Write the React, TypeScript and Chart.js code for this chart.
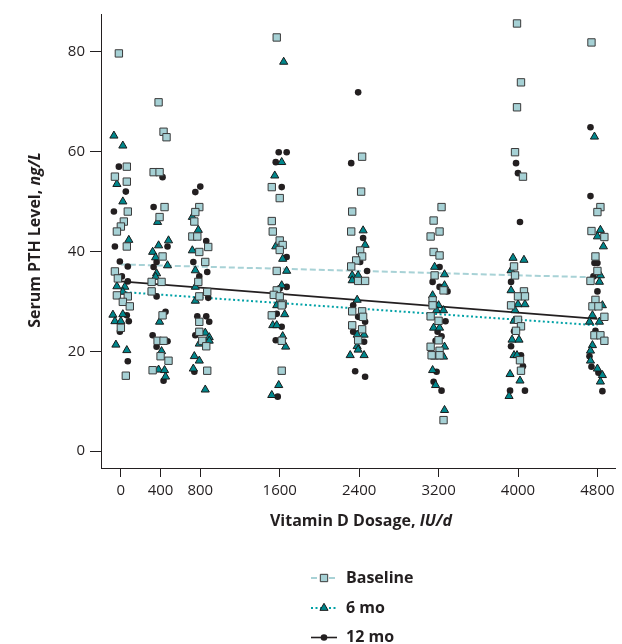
import React, { useEffect, useRef } from "react";
import { Chart, registerables } from "chart.js";

Chart.register(...registerables);

// ---- Data ----
const doses = [0, 400, 800, 1600, 2400, 3200, 4000, 4800];
const xTickValues = [0, 400, 800, 1600, 2400, 3200, 4000, 4800];
const yTickValues = [0, 20, 40, 60, 80];

// Baseline PTH values (ng/L) per dosage group, and horizontal jitter (IU/d units)
const baselineValues: number[][] = [
  [79.7, 57, 55, 54, 48, 46, 45, 44, 41, 36, 34.6, 31.2, 31, 29.9, 29, 24.7, 15.1],
  [69.9, 64, 62.9, 55.9, 55.9, 48.9, 46.9, 39, 33.9, 33.9, 32, 27.2, 22.1, 22.1, 19, 18.1, 16.2],
  [48.9, 47.9, 46, 43, 43, 40.9, 39.9, 37.9, 33.9, 31.9, 31, 25.9, 23.9, 22.1, 21, 16.1],
  [82.9, 52.9, 50.7, 46.1, 44, 42.2, 41.3, 40.3, 36.1, 32.2, 31.3, 31, 29.5, 29.2, 27.2, 22.1, 16.1],
  [59, 52, 48, 44, 40.2, 39, 38.2, 37, 34.1, 34.1, 28, 28, 26.9, 25.2, 24.4, 22.2],
  [48.9, 46.2, 44, 43, 39.9, 39.2, 35.2, 32.2, 30.2, 29.2, 27, 26.1, 22.2, 20.9, 20.1, 19.2, 19.2, 6.2],
  [85.7, 73.9, 68.9, 59.9, 55, 37, 35.2, 32, 31, 31, 29.2, 26.3, 25, 24.1, 18.2, 16.1],
  [81.9, 48.9, 47.9, 44.1, 42.9, 39, 36.1, 34.1, 30.3, 29, 29, 26.9, 23.2, 23.2, 22.1],
];
const baselineJitter: number[][] = [
  [-20, 60, -60, 60, 70, 30, 0, -40, 60, -60, -30, -40, 70, 20, 90, 0, 50],
  [-20, 30, 60, -70, -10, 40, -10, 20, -90, 10, -90, 20, -30, 30, 0, 80, -80],
  [-10, -50, -60, -80, -30, 80, -10, 50, -20, 70, -10, -10, -10, 20, 60, 70],
  [-30, -80, 0, -80, -70, 0, 30, 0, -30, -30, -60, 0, 30, 20, -80, 20, 20],
  [30, 20, -70, -80, 10, 30, -30, -80, -10, 60, -70, 30, 40, -70, 30, -10],
  [30, -50, 10, -80, -50, 10, -40, 50, -60, -60, -80, 0, 0, -80, 10, -70, 10, 50],
  [-10, 30, -10, -30, 50, -40, -30, 60, 0, 70, -70, 0, 30, -20, 20, 30],
  [-60, 30, 0, -60, 70, -20, 0, -70, -20, -50, 10, 70, -30, 30, 70],
];

const mo6Values: number[][] = [
  [63.2, 61.2, 53.5, 50, 42.3, 33, 32.9, 31.9, 27.3, 27.4, 26, 26, 21.3, 20.2],
  [45.9, 42.2, 41.2, 39.9, 38.8, 37.2, 35.6, 34.9, 25.9, 20, 16.3, 16.2, 14.9],
  [46.9, 44.3, 40.2, 36.2, 32.9, 30.1, 23.7, 22.8, 22.1, 21.5, 19, 18.1, 16.5, 12.3],
  [78, 57.9, 55.2, 41, 38.5, 36.1, 33.2, 29.2, 27.4, 25.2, 25.2, 23, 20.9, 13.2, 11.2],
  [44.2, 41.3, 35.2, 35.2, 34.2, 30.3, 23.3, 23.3, 21, 20.3, 19.2, 19.2],
  [36.9, 35.4, 33.2, 31.2, 29.2, 28.2, 28.2, 24.7, 24.7, 20.9, 18.9, 18.9, 16.2, 13.2, 8.2],
  [38.7, 38.3, 36.2, 32.2, 29.4, 29.4, 28.2, 26.1, 22.3, 22.3, 19.2, 19.2, 15.4, 14.1, 11],
  [63, 44.3, 43, 41, 35.2, 33.9, 29.2, 27.2, 25.9, 25.9, 21.2, 20.1, 18.1, 16.5, 15.2, 13.9],
];
const mo6Jitter: number[][] = [
  [-70, 20, -40, 20, 80, -40, 40, 20, -80, 20, -60, 0, -50, 60],
  [-30, 80, -20, -80, -50, 70, -40, -50, -10, 10, -20, 40, 50],
  [-80, -20, -80, -50, -50, -50, 50, 90, 90, -10, -60, -10, -70, 50],
  [40, 20, -50, -40, 30, 70, 20, -30, 50, -70, -30, 30, 60, -10, -80],
  [40, 60, -70, -10, -70, -20, -20, 50, -20, -10, -90, 50],
  [-40, 60, 60, -60, 0, -20, 50, -50, 10, 60, -40, 50, -60, -30, 60],
  [-50, 60, -70, -70, 0, 70, -30, -40, -60, 10, -40, -10, -80, 20, -90],
  [-30, 30, 0, 60, 30, 20, 50, -50, -80, 20, -50, -70, -70, 0, 50, 30],
];

const mo12Values: number[][] = [
  [57, 52, 48, 41, 38, 37, 35, 34, 27.2, 26, 23.9, 18],
  [54.9, 48.9, 41, 37.9, 36.9, 31, 27.9, 23.2, 22, 20.9, 14.1],
  [53, 51.9, 42.1, 37.9, 35.9, 35, 30.7, 27, 27, 25.9, 23.2, 15.9],
  [59.9, 59.9, 57.9, 52.9, 38.9, 32.9, 32.6, 27.5, 24.9, 22.2, 10.9],
  [71.9, 57.7, 42.7, 37.9, 36.1, 29.2, 26.9, 25.9, 23.9, 21.9, 16, 14.9],
  [36.9, 33.9, 32.9, 32, 26, 23.9, 23, 22.1, 15.9, 13.9, 12.1],
  [57.7, 55.7, 45.9, 33.9, 24, 21, 19.2, 17, 12.1, 12.1],
  [64.9, 51.1, 37.7, 37.7, 35, 32, 24.1, 19, 16.9, 15.7, 12],
];
const mo12Jitter: number[][] = [
  [-20, 50, -70, -60, -10, 70, 10, 70, 60, 80, -10, 70],
  [20, -70, 70, -40, -70, -40, 50, -80, 70, -40, 30],
  [0, -50, 60, -70, 70, -10, 80, -30, 60, 90, -50, -60],
  [-10, 70, -40, 20, 70, 70, 0, -30, 20, -40, -20],
  [-10, -80, 40, 10, 80, -60, -10, 60, -60, 50, -40, 60],
  [10, -60, 10, 90, 70, -10, 30, -30, -20, -50, 30],
  [-20, 0, 20, -70, -40, -70, 30, 50, -80, 70],
  [-70, -70, -30, 0, -40, 0, -20, -80, -60, 10, 50],
];

// Fitted trend lines: value at 0 IU/d and at 4800 IU/d
const trendDoses = [0, 4800];
const baselineTrend = [37.4, 34.8];
const mo6Trend = [31.9, 25.2];
const mo12Trend = [34.0, 26.5];

const seriesLabels = ["Baseline", "6 mo", "12 mo"];

// ---- Styles ----
const FONT = "'Open Sans', 'Noto Sans', sans-serif";
const INK = "#231F20";
const SQUARE_FILL = "#A6D1D5";
const SQUARE_EDGE = "#3a3a3a";
const TRI_FILL = "#00878C";
const TRI_EDGE = "#1a1a1a";
const BASE_LINE = "#A8D2D6";
const MO6_LINE = "#00A1A6";
const TITLE_SIZE = 16;
const TICK_SIZE = 15;

function toPoints(values: number[][], jitter: number[][]) {
  const pts: { x: number; y: number }[] = [];
  doses.forEach((d, gi) => {
    values[gi].forEach((v, i) => pts.push({ x: d + jitter[gi][i], y: v }));
  });
  return pts;
}

function toTrend(vals: number[]) {
  return trendDoses.map((d, i) => ({ x: d, y: vals[i] }));
}

function drawMarker(ctx: CanvasRenderingContext2D, kind: string, x: number, y: number) {
  ctx.save();
  if (kind === "rect") {
    const s = 5.2 * Math.SQRT1_2;
    ctx.fillStyle = SQUARE_FILL;
    ctx.strokeStyle = SQUARE_EDGE;
    ctx.lineWidth = 1;
    ctx.beginPath();
    ctx.rect(x - s, y - s, 2 * s, 2 * s);
    ctx.fill();
    ctx.stroke();
  } else if (kind === "triangle") {
    const r = 4.7;
    ctx.fillStyle = TRI_FILL;
    ctx.strokeStyle = TRI_EDGE;
    ctx.lineWidth = 1;
    ctx.beginPath();
    let rad = 0;
    ctx.moveTo(x + Math.sin(rad) * r, y - Math.cos(rad) * r);
    rad += (2 * Math.PI) / 3;
    ctx.lineTo(x + Math.sin(rad) * r, y - Math.cos(rad) * r);
    rad += (2 * Math.PI) / 3;
    ctx.lineTo(x + Math.sin(rad) * r, y - Math.cos(rad) * r);
    ctx.closePath();
    ctx.fill();
    ctx.stroke();
  } else {
    ctx.fillStyle = INK;
    ctx.beginPath();
    ctx.arc(x, y, 3.3, 0, Math.PI * 2);
    ctx.fill();
  }
  ctx.restore();
}

const annotationsPlugin = {
  id: "annotations",
  afterDraw(chart: any) {
    const ctx: CanvasRenderingContext2D = chart.ctx;
    ctx.save();
    ctx.fillStyle = INK;
    ctx.textBaseline = "middle";
    const bold = `bold ${TITLE_SIZE}px ${FONT}`;
    const boldItalic = `italic bold ${TITLE_SIZE}px ${FONT}`;

    // X axis title
    const xMain = "Vitamin D Dosage, ";
    const xUnit = "IU/d";
    ctx.font = bold;
    const w1 = ctx.measureText(xMain).width;
    ctx.font = boldItalic;
    const w2 = ctx.measureText(xUnit).width;
    const cx = 361;
    const cy = 521;
    const sx = cx - (w1 + w2) / 2;
    ctx.textAlign = "left";
    ctx.font = bold;
    ctx.fillText(xMain, sx, cy);
    ctx.font = boldItalic;
    ctx.fillText(xUnit, sx + w1, cy);

    // Y axis title (rotated)
    const yMain = "Serum PTH Level, ";
    const yUnit = "ng/L";
    ctx.font = bold;
    const v1 = ctx.measureText(yMain).width;
    ctx.font = boldItalic;
    const v2 = ctx.measureText(yUnit).width;
    ctx.save();
    ctx.translate(35, 240);
    ctx.rotate(-Math.PI / 2);
    const sy = -(v1 + v2) / 2;
    ctx.font = bold;
    ctx.fillText(yMain, sy, 0);
    ctx.font = boldItalic;
    ctx.fillText(yUnit, sy + v1, 0);
    ctx.restore();

    // Legend
    const rows = [578, 608, 637.5];
    const kinds = ["rect", "triangle", "circle"];
    const lineColors = [BASE_LINE, MO6_LINE, INK];
    const dashes = [[6, 3], [2, 2.5], []];
    const widths = [2, 2, 1.6];
    rows.forEach((ry, i) => {
      ctx.save();
      ctx.strokeStyle = lineColors[i];
      ctx.lineWidth = widths[i];
      ctx.setLineDash(dashes[i]);
      ctx.beginPath();
      ctx.moveTo(311, ry);
      ctx.lineTo(337, ry);
      ctx.stroke();
      ctx.restore();
      drawMarker(ctx, kinds[i], 324, ry);
      ctx.fillStyle = INK;
      ctx.font = bold;
      ctx.textAlign = "left";
      ctx.fillText(seriesLabels[i], 346, ry);
    });
    ctx.restore();
  },
};

export default function App() {
  const canvasRef = useRef<HTMLCanvasElement | null>(null);

  useEffect(() => {
    if (!canvasRef.current) return;
    const chart = new Chart(canvasRef.current, {
      type: "scatter",
      data: {
        datasets: [
          {
            label: seriesLabels[0],
            data: toPoints(baselineValues, baselineJitter),
            pointStyle: "rect",
            pointRadius: 5.2,
            backgroundColor: SQUARE_FILL,
            borderColor: SQUARE_EDGE,
            borderWidth: 1,
          },
          {
            label: seriesLabels[1],
            data: toPoints(mo6Values, mo6Jitter),
            pointStyle: "triangle",
            pointRadius: 4.7,
            backgroundColor: TRI_FILL,
            borderColor: TRI_EDGE,
            borderWidth: 1,
          },
          {
            label: seriesLabels[2],
            data: toPoints(mo12Values, mo12Jitter),
            pointStyle: "circle",
            pointRadius: 3.3,
            backgroundColor: INK,
            borderColor: INK,
            borderWidth: 0,
          },
          {
            label: "Baseline trend",
            type: "line",
            data: toTrend(baselineTrend),
            showLine: true,
            pointRadius: 0,
            borderColor: BASE_LINE,
            borderWidth: 2,
            borderDash: [6, 3],
            fill: false,
          } as any,
          {
            label: "6 mo trend",
            type: "line",
            data: toTrend(mo6Trend),
            showLine: true,
            pointRadius: 0,
            borderColor: MO6_LINE,
            borderWidth: 2,
            borderDash: [2, 2.5],
            fill: false,
          } as any,
          {
            label: "12 mo trend",
            type: "line",
            data: toTrend(mo12Trend),
            showLine: true,
            pointRadius: 0,
            borderColor: INK,
            borderWidth: 1.6,
            fill: false,
          } as any,
        ],
      },
      options: {
        animation: false,
        responsive: false,
        devicePixelRatio: 1,
        events: [],
        layout: { padding: { top: 13, left: 0, right: 0, bottom: 0 } },
        plugins: {
          legend: { display: false },
          tooltip: { enabled: false },
          title: { display: false },
        },
        scales: {
          x: {
            type: "linear",
            min: -200,
            max: 4985,
            afterBuildTicks: (scale: any) => {
              scale.ticks = xTickValues.map((v) => ({ value: v }));
            },
            afterFit: (scale: any) => {
              scale.height = 176;
            },
            grid: {
              display: true,
              drawOnChartArea: false,
              drawTicks: true,
              tickLength: 9,
              color: INK,
              lineWidth: 1,
            },
            border: { display: true, color: INK, width: 1 },
            ticks: {
              color: INK,
              padding: 5,
              maxRotation: 0,
              autoSkip: false,
              font: { family: FONT, size: TICK_SIZE },
              callback: (v: any) => String(v),
            },
          },
          y: {
            type: "linear",
            min: -3.4,
            max: 87.6,
            afterBuildTicks: (scale: any) => {
              scale.ticks = yTickValues.map((v) => ({ value: v }));
            },
            afterFit: (scale: any) => {
              scale.width = 101;
            },
            grid: {
              display: true,
              drawOnChartArea: false,
              drawTicks: true,
              tickLength: 11,
              color: INK,
              lineWidth: 1,
            },
            border: { display: true, color: INK, width: 1 },
            ticks: {
              color: INK,
              padding: 5,
              autoSkip: false,
              font: { family: FONT, size: TICK_SIZE },
              callback: (v: any) => String(v),
            },
          },
        },
      },
      plugins: [annotationsPlugin],
    } as any);
    return () => chart.destroy();
  }, []);

  return (
    <div style={{ position: "absolute", left: 0, top: 0, width: 622, height: 644, background: "#fff" }}>
      <canvas ref={canvasRef} width={622} height={644} style={{ width: 622, height: 644, display: "block" }} />
    </div>
  );
}
